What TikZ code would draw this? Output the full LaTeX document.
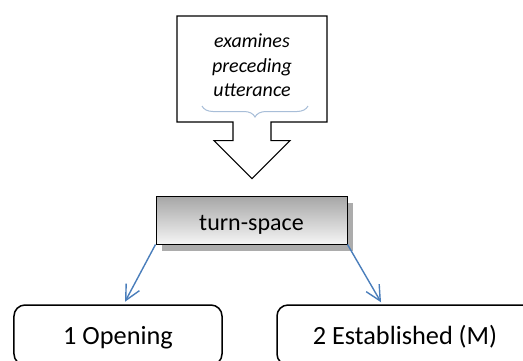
\documentclass[tikz,border=0pt]{standalone}
\usepackage{fontspec}
\setmainfont{Carlito}
\usetikzlibrary{arrows.meta,shapes.arrows,decorations.pathreplacing,shadows}
\definecolor{linkblue}{RGB}{74,126,187}
\definecolor{bracegray}{RGB}{168,190,216}
\tikzset{
  callout box/.style={arrow box, draw=black, line width=1.2bp, fill=white,
    minimum width=150bp, minimum height=106bp, inner sep=0pt,
    arrow box shaft width=38bp, arrow box head extend=19bp,
    arrow box head indent=0pt, arrow box tip angle=90,
    arrow box arrows={south:56bp from border}},
  callout text/.style={align=center, inner sep=0pt,
    font=\fontsize{20bp}{24.5bp}\selectfont\itshape},
  space box/.style={draw=black, line width=1bp, inner sep=0pt,
    minimum width=191bp, minimum height=48bp,
    top color=gray!70, bottom color=gray!8,
    drop shadow={shadow xshift=6bp, shadow yshift=-7bp, fill=gray!65, opacity=1},
    text height=20bp, text depth=0pt,
    font=\fontsize{24bp}{28bp}\selectfont},
  phase box/.style={draw=black, line width=1.5bp, rounded corners=11bp,
    inner sep=0pt, minimum height=60bp, text height=18bp, text depth=0pt,
    font=\fontsize{26.3bp}{30bp}\selectfont},
  link/.style={draw=linkblue, line width=1.4bp,
    -{Straight Barb[length=15bp,width=15bp]}},
  brace line/.style={draw=bracegray, line width=1bp, decorate,
    decoration={brace, amplitude=11bp}}
}
\begin{document}
\begin{tikzpicture}[x=1bp, y=-1bp]
  \useasboundingbox (0,0) rectangle (523,360);
  \clip (0,0) rectangle (523,360);

  % callout with its downward arrow
  \node[callout box] (cb) at (252,69) {};
  \node[callout text] (ex) at ([yshift=3.5bp]cb.center)
    {examines\\preceding\\utterance};
  \draw[brace line] (308,106) -- (202,106);

  % turn-space box
  \node[space box] (ts) at (251.5,220) {turn-space};

  % the two outcomes
  \node[phase box, minimum width=208bp] (op) at (118,335) {1 Opening};
  \node[phase box, minimum width=256bp] (es) at (405,335) {2 Established (M)};

  \draw[link] (ts.south west) -- ([xshift=7bp,yshift=2.5bp]op.north);
  \draw[link] (ts.south east) -- ([xshift=-24bp,yshift=2bp]es.north);
\end{tikzpicture}
\end{document}
